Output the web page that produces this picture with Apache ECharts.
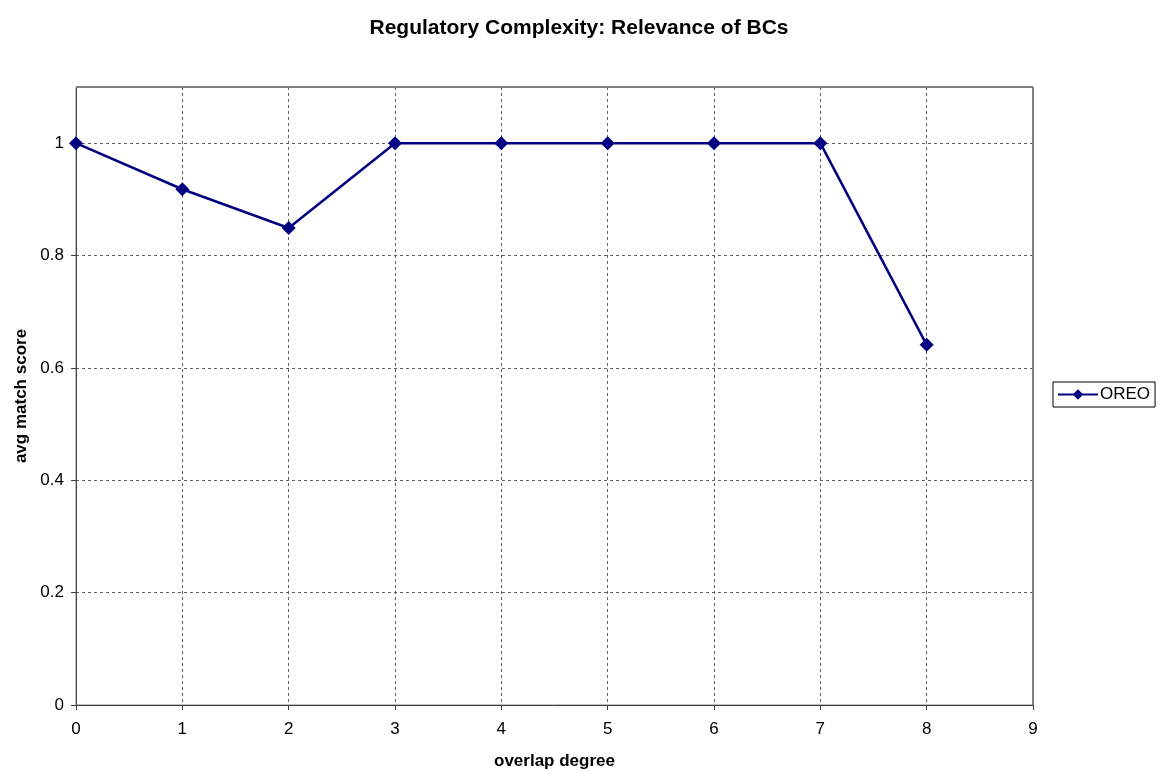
<!DOCTYPE html>
<html><head><meta charset="utf-8">
<script src="https://cdn.jsdelivr.net/npm/echarts@6/dist/echarts.min.js"></script>
<style>html,body{margin:0;padding:0;background:#fff}#c{width:1158px;height:771px}</style>
</head><body><div id="c"></div>
<script>
const overlapDegree = [0, 1, 2, 3, 4, 5, 6, 7, 8];
const oreoScores = [1, 0.918, 0.849, 1, 1, 1, 1, 1, 0.641];
const seriesName = 'OREO';
const titleText = 'Regulatory Complexity: Relevance of BCs';
const xName = 'overlap degree';
const yName = 'avg match score';

const chart = echarts.init(document.getElementById('c'));
const font = 'Liberation Sans, Arial, sans-serif';
const X_MIN = 0, X_MAX = 9, Y_MIN = 0, Y_MAX = 1.1;
chart.setOption({
  animation: false,
  backgroundColor: '#fff',
  textStyle: {fontFamily: font},
  title: {text: titleText, left: 'center', top: 13,
    textStyle: {fontFamily: font, fontSize: 21, fontWeight: 'bold', color: '#000'}},
  grid: {left: 76, right: 125, top: 87, bottom: 66, show: true, borderColor: '#808080', borderWidth: 1,
    outerBoundsMode: 'none', containLabel: false},
  legend: {
    left: 1053, top: 382, orient: 'vertical',
    borderColor: '#000', borderWidth: 1, padding: [4, 5, 4, 4],
    itemWidth: 40, itemHeight: 13, itemGap: 0,
    textStyle: {fontFamily: font, fontSize: 17, color: '#000', padding: [0, 0, 0, -3]},
    data: [seriesName]
  },
  xAxis: {
    type: 'value', min: X_MIN, max: X_MAX, interval: 1,
    name: xName, nameLocation: 'middle', nameGap: 48,
    nameTextStyle: {fontFamily: font, fontSize: 17, fontWeight: 'bold', color: '#000'},
    axisLine: {lineStyle: {color: '#404040', width: 1}},
    axisTick: {show: true, length: 5, lineStyle: {color: '#404040'}},
    axisLabel: {fontFamily: font, fontSize: 17, color: '#000', margin: 16},
    splitLine: {show: true, lineStyle: {type: [3, 3], color: '#606060', width: 1}}
  },
  yAxis: {
    type: 'value', min: Y_MIN, max: Y_MAX, interval: 0.2,
    name: yName, nameLocation: 'middle', nameGap: 45,
    nameTextStyle: {fontFamily: font, fontSize: 17, fontWeight: 'bold', color: '#000'},
    axisLine: {show: true, lineStyle: {color: '#404040', width: 1}},
    axisTick: {show: true, length: 5, lineStyle: {color: '#404040'}},
    axisLabel: {fontFamily: font, fontSize: 17, color: '#000', margin: 12, showMaxLabel: false,
      formatter: v => (Math.abs(v - Y_MAX) < 1e-6 ? '' : String(+v.toFixed(1)))},
    splitLine: {show: true, lineStyle: {type: [3, 3], color: '#606060', width: 1}}
  },
  series: [{
    name: seriesName, type: 'line',
    data: overlapDegree.map((x, i) => [x, oreoScores[i]]),
    symbol: 'diamond', symbolSize: 14,
    lineStyle: {color: '#000080', width: 2.5},
    itemStyle: {color: '#000080'}
  }]
});
// solid plot-area border on top/right (covers dashed gridlines at the extents)
const tl = chart.convertToPixel({gridIndex: 0}, [X_MIN, Y_MAX]);
const br = chart.convertToPixel({gridIndex: 0}, [X_MAX, Y_MIN]);
chart.setOption({
  graphic: [
    {type: 'line', z: 1, shape: {x1: tl[0], y1: tl[1], x2: br[0], y2: tl[1]}, style: {stroke: '#808080', lineWidth: 2}},
    {type: 'line', z: 1, shape: {x1: br[0], y1: tl[1], x2: br[0], y2: br[1]}, style: {stroke: '#808080', lineWidth: 2}}
  ]
});
</script></body></html>
